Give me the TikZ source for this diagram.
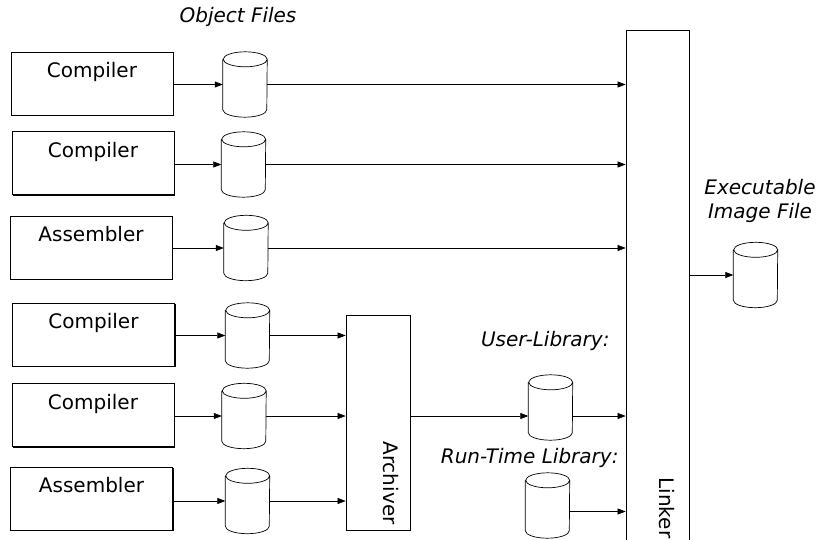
\documentclass[tikz,border=0pt]{standalone}
\usepackage{fontspec}
\setmainfont{DejaVu Sans}
\usetikzlibrary{shadows,arrows.meta}

\begin{document}
\begin{tikzpicture}[x=1pt,y=-1pt]
\useasboundingbox (0,0) rectangle (819,540);
\tikzstyle{every node} = [font=\fontsize{20}{24}\selectfont]
\tikzstyle{tool} = [draw, fill=white, line width=0.8pt, drop shadow={shadow xshift=1.3pt, shadow yshift=-1.3pt, fill=black, opacity=1}]
\tikzstyle{srcbox} = [tool, minimum width=162pt, minimum height=63pt]
\tikzstyle{file} = [minimum width=44pt, minimum height=65pt, inner sep=0pt]
\tikzstyle{note} = [font=\fontsize{20}{24}\selectfont\itshape]
\tikzstyle{flow} = [-{Triangle[length=8pt,width=6pt]}, line width=0.6pt]
\node[srcbox, label={[anchor=base,yshift=-26pt]north:Compiler}] (comp1) at (92,83.5) {};
\node[srcbox, label={[anchor=base,yshift=-26pt]north:Compiler}] (comp2) at (93,163) {};
\node[srcbox, label={[anchor=base,yshift=-26pt]north:Assembler}] (asm1) at (91,247.5) {};
\node[srcbox, label={[anchor=base,yshift=-26pt]north:Compiler}] (comp3) at (93.5,334.5) {};
\node[srcbox, label={[anchor=base,yshift=-26pt]north:Compiler}] (comp4) at (93,415) {};
\node[srcbox, label={[anchor=base,yshift=-26pt]north:Assembler}] (asm2) at (91.5,498.5) {};
\node[file] (obj1) at (245,84.5) {};
\node[file] (obj2) at (243.5,164.5) {};
\node[file] (obj3) at (246,248) {};
\node[file] (obj4) at (247.5,335.5) {};
\node[file] (obj5) at (244,416) {};
\node[file] (obj6) at (247.5,501) {};
\node[file] (userlib) at (550.5,407.5) {};
\node[file] (rtlib) at (547.5,505.5) {};
\node[file] (exe) at (755.5,275) {};
% cylinders
\foreach \c in {obj1, obj2, obj3, obj4, obj5, obj6, userlib, rtlib, exe}
\draw [fill=white, line width=0.7pt] ([yshift=-7.5pt]\c.north west) -- ([yshift=7.5pt]\c.south west)
  arc [start angle=180, end angle=360, x radius=22pt, y radius=7.5pt]
  -- ([yshift=-7.5pt]\c.north east)
  arc [start angle=0, end angle=360, x radius=22pt, y radius=7.5pt];
\node[tool, minimum width=64pt, minimum height=215pt] (arch) at (378,422.5) {};
\node[rotate=-90] (archlabel) at (391,483) {Archiver};
\node[tool, minimum width=63pt, minimum height=530pt] (linker) at (657.5,295) {};
\node[rotate=-90] (linklabel) at (667,508) {Linker};
\node[note] (objlabel) at (238,17) {Object Files};
\node[note, anchor=east] (userlabel) at (613,341) {User-Library:};
\node[note, anchor=east] (rtlabel) at (622,458) {Run-Time Library:};
\node[note, align=center] (exelabel) at (760,201) {Executable\\Image File};
\foreach \from/\to in {comp1/obj1, comp2/obj2, asm1/obj3, comp3/obj4, comp4/obj5, asm2/obj6}
\draw [flow] (\from.east |- \to.west) -- (\to.west);
\foreach \from in {obj1, obj2, obj3}
\draw [flow] (\from.east) -- (\from.east -| linker.west);
\foreach \from in {obj4, obj5, obj6}
\draw [flow] (\from.east) -- (\from.east -| arch.west);
\draw [flow] (arch.east |- obj5.east) -- (obj5.east -| userlib.west);
\draw [flow] (obj5.east -| userlib.east) -- (obj5.east -| linker.west);
\draw [flow] ([yshift=-6pt]rtlib.east) -- ([yshift=-6pt]rtlib.east -| linker.west);
\draw [flow] (linker.east |- exe.west) -- (exe.west);
\end{tikzpicture}
\end{document}
